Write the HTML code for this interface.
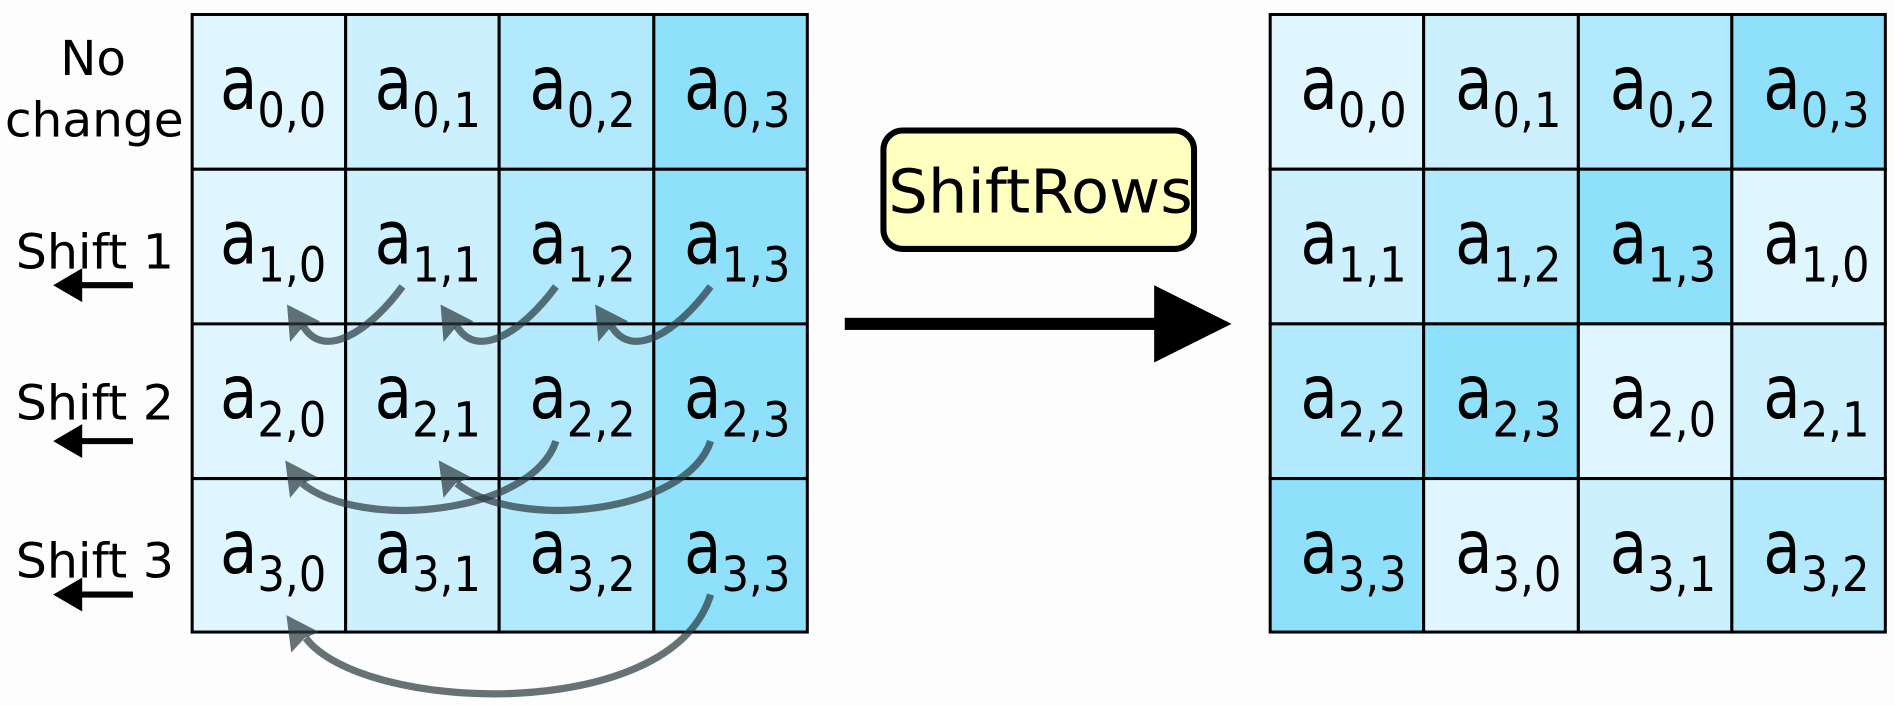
<!DOCTYPE html>
<html><head><meta charset="utf-8"><style>
html,body{margin:0;padding:0;background:#fff;}
svg{display:block;}
text{font-family:"DejaVu Sans","Liberation Sans",sans-serif;fill:#000;}
</style></head><body>
<svg width="1895" height="706" viewBox="0 0 1568 584.2" preserveAspectRatio="none" xmlns="http://www.w3.org/2000/svg">
<rect width="1568" height="584.2" fill="#fdfdfd"/>
<g stroke="#000" stroke-width="2.5">
<rect x="159" y="12" width="127" height="511" fill="#e0f6fe"/>
<rect x="286" y="12" width="127" height="511" fill="#ccf0fd"/>
<rect x="413" y="12" width="128" height="511" fill="#b2e9fc"/>
<rect x="541" y="12" width="127" height="511" fill="#8fe0fb"/>
<line x1="159" y1="140" x2="668" y2="140"/>
<line x1="159" y1="268" x2="668" y2="268"/>
<line x1="159" y1="396" x2="668" y2="396"/>
</g>
<g stroke="#000" stroke-width="2.5">
<rect x="1051" y="12" width="127" height="128" fill="#e0f6fe"/>
<rect x="1178" y="12" width="128" height="128" fill="#ccf0fd"/>
<rect x="1306" y="12" width="127" height="128" fill="#b2e9fc"/>
<rect x="1433" y="12" width="127" height="128" fill="#8fe0fb"/>
<rect x="1051" y="140" width="127" height="128" fill="#ccf0fd"/>
<rect x="1178" y="140" width="128" height="128" fill="#b2e9fc"/>
<rect x="1306" y="140" width="127" height="128" fill="#8fe0fb"/>
<rect x="1433" y="140" width="127" height="128" fill="#e0f6fe"/>
<rect x="1051" y="268" width="127" height="128" fill="#b2e9fc"/>
<rect x="1178" y="268" width="128" height="128" fill="#8fe0fb"/>
<rect x="1306" y="268" width="127" height="128" fill="#e0f6fe"/>
<rect x="1433" y="268" width="127" height="128" fill="#ccf0fd"/>
<rect x="1051" y="396" width="127" height="127" fill="#8fe0fb"/>
<rect x="1178" y="396" width="128" height="127" fill="#e0f6fe"/>
<rect x="1306" y="396" width="127" height="127" fill="#ccf0fd"/>
<rect x="1433" y="396" width="127" height="127" fill="#b2e9fc"/>
</g>
<g font-size="62">
<text x="182" y="90" textLength="31" lengthAdjust="spacingAndGlyphs">a</text><text x="213" y="105" font-size="40" textLength="57" lengthAdjust="spacingAndGlyphs">0,0</text>
<text x="310" y="90" textLength="31" lengthAdjust="spacingAndGlyphs">a</text><text x="341" y="105" font-size="40" textLength="57" lengthAdjust="spacingAndGlyphs">0,1</text>
<text x="438" y="90" textLength="31" lengthAdjust="spacingAndGlyphs">a</text><text x="469" y="105" font-size="40" textLength="57" lengthAdjust="spacingAndGlyphs">0,2</text>
<text x="566" y="90" textLength="31" lengthAdjust="spacingAndGlyphs">a</text><text x="597" y="105" font-size="40" textLength="57" lengthAdjust="spacingAndGlyphs">0,3</text>
<text x="182" y="218" textLength="31" lengthAdjust="spacingAndGlyphs">a</text><text x="213" y="233" font-size="40" textLength="57" lengthAdjust="spacingAndGlyphs">1,0</text>
<text x="310" y="218" textLength="31" lengthAdjust="spacingAndGlyphs">a</text><text x="341" y="233" font-size="40" textLength="57" lengthAdjust="spacingAndGlyphs">1,1</text>
<text x="438" y="218" textLength="31" lengthAdjust="spacingAndGlyphs">a</text><text x="469" y="233" font-size="40" textLength="57" lengthAdjust="spacingAndGlyphs">1,2</text>
<text x="566" y="218" textLength="31" lengthAdjust="spacingAndGlyphs">a</text><text x="597" y="233" font-size="40" textLength="57" lengthAdjust="spacingAndGlyphs">1,3</text>
<text x="182" y="346" textLength="31" lengthAdjust="spacingAndGlyphs">a</text><text x="213" y="361" font-size="40" textLength="57" lengthAdjust="spacingAndGlyphs">2,0</text>
<text x="310" y="346" textLength="31" lengthAdjust="spacingAndGlyphs">a</text><text x="341" y="361" font-size="40" textLength="57" lengthAdjust="spacingAndGlyphs">2,1</text>
<text x="438" y="346" textLength="31" lengthAdjust="spacingAndGlyphs">a</text><text x="469" y="361" font-size="40" textLength="57" lengthAdjust="spacingAndGlyphs">2,2</text>
<text x="566" y="346" textLength="31" lengthAdjust="spacingAndGlyphs">a</text><text x="597" y="361" font-size="40" textLength="57" lengthAdjust="spacingAndGlyphs">2,3</text>
<text x="182" y="474" textLength="31" lengthAdjust="spacingAndGlyphs">a</text><text x="213" y="489" font-size="40" textLength="57" lengthAdjust="spacingAndGlyphs">3,0</text>
<text x="310" y="474" textLength="31" lengthAdjust="spacingAndGlyphs">a</text><text x="341" y="489" font-size="40" textLength="57" lengthAdjust="spacingAndGlyphs">3,1</text>
<text x="438" y="474" textLength="31" lengthAdjust="spacingAndGlyphs">a</text><text x="469" y="489" font-size="40" textLength="57" lengthAdjust="spacingAndGlyphs">3,2</text>
<text x="566" y="474" textLength="31" lengthAdjust="spacingAndGlyphs">a</text><text x="597" y="489" font-size="40" textLength="57" lengthAdjust="spacingAndGlyphs">3,3</text>

<text x="1076" y="90" textLength="31" lengthAdjust="spacingAndGlyphs">a</text><text x="1107" y="105" font-size="40" textLength="57" lengthAdjust="spacingAndGlyphs">0,0</text>
<text x="1204" y="90" textLength="31" lengthAdjust="spacingAndGlyphs">a</text><text x="1235" y="105" font-size="40" textLength="57" lengthAdjust="spacingAndGlyphs">0,1</text>
<text x="1332" y="90" textLength="31" lengthAdjust="spacingAndGlyphs">a</text><text x="1363" y="105" font-size="40" textLength="57" lengthAdjust="spacingAndGlyphs">0,2</text>
<text x="1459" y="90" textLength="31" lengthAdjust="spacingAndGlyphs">a</text><text x="1490" y="105" font-size="40" textLength="57" lengthAdjust="spacingAndGlyphs">0,3</text>
<text x="1076" y="218" textLength="31" lengthAdjust="spacingAndGlyphs">a</text><text x="1107" y="233" font-size="40" textLength="57" lengthAdjust="spacingAndGlyphs">1,1</text>
<text x="1204" y="218" textLength="31" lengthAdjust="spacingAndGlyphs">a</text><text x="1235" y="233" font-size="40" textLength="57" lengthAdjust="spacingAndGlyphs">1,2</text>
<text x="1332" y="218" textLength="31" lengthAdjust="spacingAndGlyphs">a</text><text x="1363" y="233" font-size="40" textLength="57" lengthAdjust="spacingAndGlyphs">1,3</text>
<text x="1459" y="218" textLength="31" lengthAdjust="spacingAndGlyphs">a</text><text x="1490" y="233" font-size="40" textLength="57" lengthAdjust="spacingAndGlyphs">1,0</text>
<text x="1076" y="346" textLength="31" lengthAdjust="spacingAndGlyphs">a</text><text x="1107" y="361" font-size="40" textLength="57" lengthAdjust="spacingAndGlyphs">2,2</text>
<text x="1204" y="346" textLength="31" lengthAdjust="spacingAndGlyphs">a</text><text x="1235" y="361" font-size="40" textLength="57" lengthAdjust="spacingAndGlyphs">2,3</text>
<text x="1332" y="346" textLength="31" lengthAdjust="spacingAndGlyphs">a</text><text x="1363" y="361" font-size="40" textLength="57" lengthAdjust="spacingAndGlyphs">2,0</text>
<text x="1459" y="346" textLength="31" lengthAdjust="spacingAndGlyphs">a</text><text x="1490" y="361" font-size="40" textLength="57" lengthAdjust="spacingAndGlyphs">2,1</text>
<text x="1076" y="474" textLength="31" lengthAdjust="spacingAndGlyphs">a</text><text x="1107" y="489" font-size="40" textLength="57" lengthAdjust="spacingAndGlyphs">3,3</text>
<text x="1204" y="474" textLength="31" lengthAdjust="spacingAndGlyphs">a</text><text x="1235" y="489" font-size="40" textLength="57" lengthAdjust="spacingAndGlyphs">3,0</text>
<text x="1332" y="474" textLength="31" lengthAdjust="spacingAndGlyphs">a</text><text x="1363" y="489" font-size="40" textLength="57" lengthAdjust="spacingAndGlyphs">3,1</text>
<text x="1459" y="474" textLength="31" lengthAdjust="spacingAndGlyphs">a</text><text x="1490" y="489" font-size="40" textLength="57" lengthAdjust="spacingAndGlyphs">3,2</text>
</g>
<g font-size="40">
<text x="77" y="62" text-anchor="middle">No</text>
<text x="4" y="113" textLength="148" lengthAdjust="spacingAndGlyphs">change</text>
<text x="13" y="222" textLength="131" lengthAdjust="spacingAndGlyphs">Shift 1</text>
<text x="13" y="347" textLength="131" lengthAdjust="spacingAndGlyphs">Shift 2</text>
<text x="13" y="478" textLength="131" lengthAdjust="spacingAndGlyphs">Shift 3</text>
</g>
<g stroke="#000" stroke-width="5">
<line x1="110" y1="236" x2="60" y2="236"/>
<line x1="110" y1="365" x2="60" y2="365"/>
<line x1="110" y1="492" x2="60" y2="492"/>
</g>
<g fill="#000">
<polygon points="44,236 68,222 68,250"/>
<polygon points="44,365 68,351 68,379"/>
<polygon points="44,492 68,478 68,506"/>
</g>
<g fill="none" stroke="rgba(45,60,65,0.72)" stroke-width="6">
<path d="M333,237 C305,275 268,298 251,270"/>
<path d="M460,237 C432,275 395,298 378,270"/>
<path d="M588,237 C560,275 523,298 506,270"/>
<path d="M460,365 C440,425 300,440 250,400"/>
<path d="M588,365 C568,425 428,440 378,400"/>
<path d="M588,492 C555,600 300,590 253,528"/>
</g>
<g fill="rgba(45,60,65,0.72)">
<polygon points="237.5,252 265,266 251,270 240,283"/>
<polygon points="364.5,252 392,266 378,270 367,283"/>
<polygon points="492.5,252 520,266 506,270 495,283"/>
<polygon points="236,381 263,395 250,400 240,412"/>
<polygon points="363,381 390,395 377,400 367,412"/>
<polygon points="237,509 264,523 252,528 241,540"/>
</g>
<rect x="731" y="108" width="257" height="98" rx="16" fill="#ffffc0" stroke="#000" stroke-width="5"/>
<text x="735" y="176" font-size="50" textLength="252" lengthAdjust="spacingAndGlyphs">ShiftRows</text>
<rect x="699" y="263" width="262" height="10" fill="#000"/>
<polygon points="955,236 1019,268 955,300" fill="#000"/>
</svg>
</body></html>
